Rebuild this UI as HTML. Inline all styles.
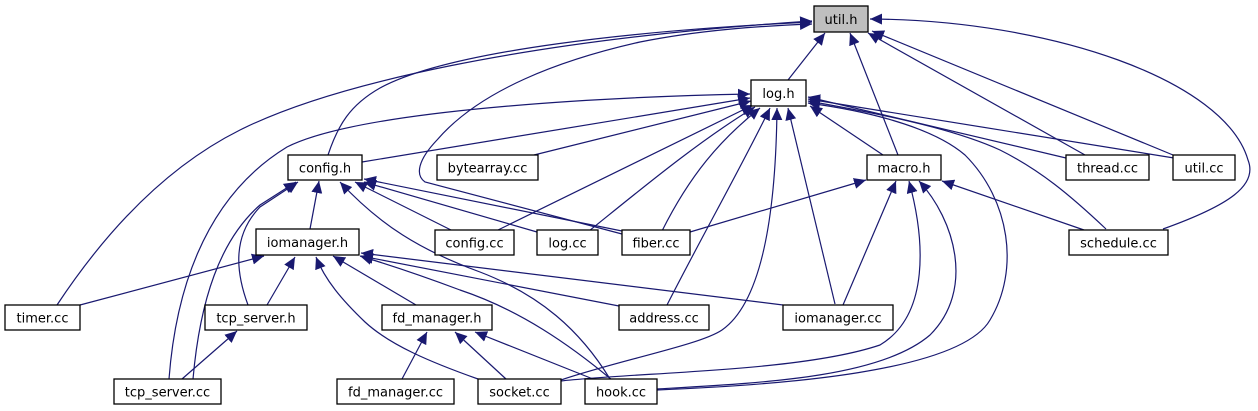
<!DOCTYPE html>
<html><head><meta charset="utf-8"><style>
html,body{margin:0;padding:0;background:#fff;}
svg{display:block}
text{font-family:"DejaVu Sans","Liberation Sans",sans-serif;font-size:13px;fill:#000}
.e{fill:none;stroke:#191970;stroke-width:1.2}
.n{fill:#fff;stroke:#000;stroke-width:1.3}
</style></head><body>
<svg width="1258" height="411" viewBox="0 0 1258 411" xmlns="http://www.w3.org/2000/svg">
<defs><marker id="a" markerUnits="userSpaceOnUse" markerWidth="13" markerHeight="11" refX="12" refY="5.5" orient="auto"><path d="M0,0 L12,5.5 L0,11 z" fill="#191970"/></marker></defs>
<g class="e" marker-end="url(#a)">
<path d="M788,80 L825,33"/>
<path d="M898,155 L850,33"/>
<path d="M1085,155 L868,33"/>
<path d="M1173,155 L872,31"/>
<path d="M1163,229 C1230,205 1258,185 1248,160 C1225,80 1050,20 870,19"/>
<path d="M328,155 C338,125 350,105 380,88 C450,50 640,30 812,22"/>
<path d="M57,305 C100,240 160,170 240,130 C330,85 520,40 812,21"/>
<path d="M622,234 L425,182 C415,175 418,160 437,140 C480,90 560,60 640,42 C700,30 760,26 812,24"/>
<path d="M169,379 C175,300 200,200 287,147 C360,110 600,97 750,94"/>
<path d="M362,162 L750,98"/>
<path d="M534,155 L751,101"/>
<path d="M498,230 L753,105"/>
<path d="M589,231 C640,190 700,140 755,107"/>
<path d="M662,231 C690,175 720,140 760,108"/>
<path d="M667,305 C700,240 745,160 770,108"/>
<path d="M561,380 C620,360 700,345 722,330 C765,300 776,200 777,108"/>
<path d="M835,304 L788,108"/>
<path d="M883,155 L810,106"/>
<path d="M1066,158 L808,97"/>
<path d="M1174,158 L808,99"/>
<path d="M1106,229 C1070,195 1040,170 1000,150 C950,127 870,112 808,101"/>
<path d="M657,390 C780,385 960,372 990,320 C1020,270 1010,200 965,155 C930,125 860,110 808,103"/>
<path d="M690,232 L866,180"/>
<path d="M843,305 L896,181"/>
<path d="M1084,230 L942,181"/>
<path d="M561,381 C640,372 800,372 880,345 C930,315 925,240 909,181"/>
<path d="M657,389 C760,383 880,378 930,335 C975,290 955,220 919,181"/>
<path d="M310,229 L319,181"/>
<path d="M248,305 C235,270 233,235 260,207 L298,182"/>
<path d="M193,379 C200,300 220,240 260,205 L296,182"/>
<path d="M451,230 L355,182"/>
<path d="M537,232 L364,182"/>
<path d="M622,231 L364,179"/>
<path d="M610,379 C580,330 540,295 480,272 C420,250 380,225 340,182"/>
<path d="M80,305 L264,256"/>
<path d="M267,305 L295,257"/>
<path d="M416,305 L333,256"/>
<path d="M478,379 C430,362 390,345 365,322 C342,300 325,280 316,257"/>
<path d="M612,380 C570,345 520,310 460,290 C420,275 390,265 360,256"/>
<path d="M619,306 L361,256"/>
<path d="M783,305 L361,253"/>
<path d="M182,379 L237,331"/>
<path d="M402,379 L427,332"/>
<path d="M506,379 L455,332"/>
<path d="M593,379 L475,332"/>
</g>
<g>
<rect class="n" x="814" y="6" width="54" height="26" style="fill:#bfbfbf"/><text x="841" y="24" text-anchor="middle">util.h</text>
<rect class="n" x="751" y="80" width="55" height="26"/><text x="778.5" y="98" text-anchor="middle">log.h</text>
<rect class="n" x="288" y="155" width="74" height="25"/><text x="325" y="172.5" text-anchor="middle">config.h</text>
<rect class="n" x="437" y="155" width="101" height="25"/><text x="487.5" y="172.5" text-anchor="middle">bytearray.cc</text>
<rect class="n" x="867" y="155" width="74" height="25"/><text x="904" y="172.5" text-anchor="middle">macro.h</text>
<rect class="n" x="1066" y="155" width="83" height="25"/><text x="1107.5" y="172.5" text-anchor="middle">thread.cc</text>
<rect class="n" x="1173" y="155" width="62" height="25"/><text x="1204" y="172.5" text-anchor="middle">util.cc</text>
<rect class="n" x="256" y="229" width="103" height="26"/><text x="307.5" y="247" text-anchor="middle">iomanager.h</text>
<rect class="n" x="435" y="230" width="79" height="25"/><text x="474.5" y="247.5" text-anchor="middle">config.cc</text>
<rect class="n" x="537" y="230" width="61" height="25"/><text x="567.5" y="247.5" text-anchor="middle">log.cc</text>
<rect class="n" x="622" y="230" width="68" height="25"/><text x="656" y="247.5" text-anchor="middle">fiber.cc</text>
<rect class="n" x="1069" y="230" width="99" height="25"/><text x="1118.5" y="247.5" text-anchor="middle">schedule.cc</text>
<rect class="n" x="5" y="305" width="75" height="25"/><text x="42.5" y="322.5" text-anchor="middle">timer.cc</text>
<rect class="n" x="205" y="305" width="102" height="25"/><text x="256" y="322.5" text-anchor="middle">tcp_server.h</text>
<rect class="n" x="382" y="305" width="110" height="25"/><text x="437" y="322.5" text-anchor="middle">fd_manager.h</text>
<rect class="n" x="619" y="305" width="90" height="25"/><text x="664" y="322.5" text-anchor="middle">address.cc</text>
<rect class="n" x="783" y="305" width="110" height="25"/><text x="838" y="322.5" text-anchor="middle">iomanager.cc</text>
<rect class="n" x="114" y="379" width="107" height="25"/><text x="167.5" y="396.5" text-anchor="middle">tcp_server.cc</text>
<rect class="n" x="337" y="379" width="117" height="25"/><text x="395.5" y="396.5" text-anchor="middle">fd_manager.cc</text>
<rect class="n" x="478" y="379" width="83" height="25"/><text x="519.5" y="396.5" text-anchor="middle">socket.cc</text>
<rect class="n" x="585" y="379" width="72" height="25"/><text x="621" y="396.5" text-anchor="middle">hook.cc</text>
</g>
</svg>
</body></html>
